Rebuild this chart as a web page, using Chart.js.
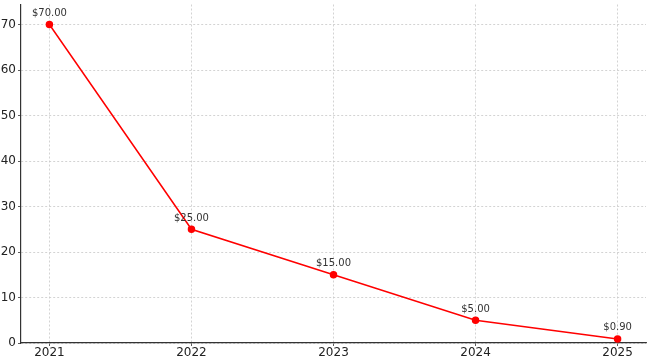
<!DOCTYPE html>
<html><head><meta charset="utf-8">
<script src="https://cdn.jsdelivr.net/npm/chart.js@4"></script>
<style>html,body{margin:0;padding:0;background:#fff}#w{width:652px;height:356px}</style>
</head><body><div id="w"><canvas id="c"></canvas></div>
<script>
const years = [2021, 2022, 2023, 2024, 2025];
const prices = [70, 25, 15, 5, 0.9];
const priceLabels = ['$70.00', '$25.00', '$15.00', '$5.00', '$0.90'];
const yTicks = [0, 10, 20, 30, 40, 50, 60, 70];

const labelPlugin = {
  id: 'pl',
  afterDatasetsDraw(chart) {
    const ctx = chart.ctx;
    const meta = chart.getDatasetMeta(0);
    ctx.save();
    ctx.font = '10px "DejaVu Sans"';
    ctx.fillStyle = '#333';
    ctx.textAlign = 'center';
    ctx.textBaseline = 'bottom';
    meta.data.forEach((p, i) => ctx.fillText(priceLabels[i], p.x, p.y - 6));
    ctx.restore();
  }
};

new Chart(document.getElementById('c'), {
  type: 'line',
  data: { datasets: [{
    data: years.map((y, i) => ({x: y, y: prices[i]})),
    borderColor: '#ff0000', backgroundColor: '#ff0000',
    borderWidth: 1.5, pointRadius: 3, pointHoverRadius: 3, tension: 0
  }]},
  options: {
    responsive: true, maintainAspectRatio: false, animation: false,
    layout: { padding: { top: 0, right: 6, left: 0, bottom: 0 } },
    plugins: { legend: { display: false }, tooltip: { enabled: false } },
    scales: {
      x: {
        type: 'linear', min: 2020.8, max: 2025.2,
        afterBuildTicks: s => { s.ticks = years.map(v => ({value: v})); },
        afterFit: s => { s.height = 13; s.paddingLeft = 0; s.paddingRight = 0; },
        ticks: { callback: v => String(v), color: '#222', font: { family: 'DejaVu Sans', size: 12 }, padding: 0, maxRotation: 0 },
        grid: { color: '#c8c8c8', tickColor: '#333', tickLength: 3, lineWidth: 0.8 },
        border: { color: '#333', width: 1.2, dash: [2, 2] }
      },
      y: {
        min: 0, max: 74.4,
        afterBuildTicks: s => { s.ticks = yTicks.map(v => ({value: v})); },
        afterFit: s => { s.width = 21; s.paddingTop = 0; s.paddingBottom = 0; },
        ticks: { color: '#222', font: { family: 'DejaVu Sans', size: 12 }, padding: 2 },
        grid: { color: '#c8c8c8', tickColor: '#333', tickLength: 3, lineWidth: 0.8 },
        border: { color: '#333', width: 1.2, dash: [2, 2] }
      }
    }
  },
  plugins: [labelPlugin]
});
</script></body></html>
